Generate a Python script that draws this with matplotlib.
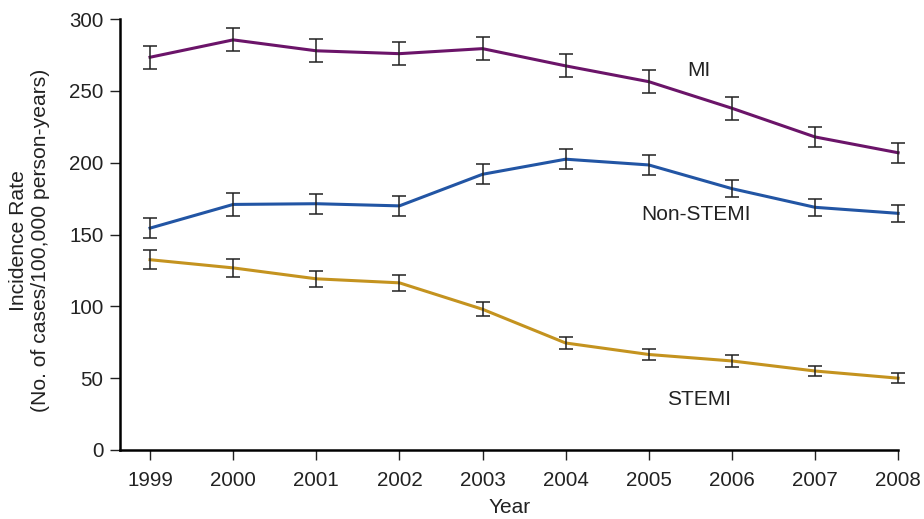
import matplotlib.pyplot as plt
import numpy as np

plt.rcParams['font.family'] = ['Liberation Sans', 'DejaVu Sans']

years = np.arange(1999, 2009)

# incidence rates per 100,000 person-years
mi = [273.5, 285.6, 278, 276, 279.5, 267.5, 256.5, 238, 218, 207]
mi_err = [8, 8, 8, 8, 8, 8, 8, 8, 7, 7]
nstemi = [154.5, 171, 171.5, 170, 192, 202.5, 198.5, 182, 169, 164.8]
nstemi_err = [7, 8, 7, 7, 7, 7, 7, 6, 6, 6]
stemi = [132.5, 126.8, 119.2, 116.4, 98, 74.5, 66.5, 62, 55, 50]
stemi_err = [6.5, 6, 5.5, 5.5, 5, 4, 4, 4, 3.5, 3.5]

series = [
    (mi, mi_err, '#6b1469', 'MI', 2005.6, 264),
    (nstemi, nstemi_err, '#2255a4', 'Non-STEMI', 2005.57, 164),
    (stemi, stemi_err, '#c4931f', 'STEMI', 2005.6, 35),
]

fig = plt.figure(figsize=(9.24, 5.19), dpi=100)
ax = fig.add_axes([0.13, 0.133, 0.842, 0.830])

for vals, err, color, name, tx, ty in series:
    ax.plot(years, vals, color=color, lw=2.2, zorder=2, clip_on=False)
    ax.errorbar(years, vals, yerr=err, fmt='none', ecolor='#222222',
                elinewidth=1.1, capsize=5, capthick=1.1, zorder=3, clip_on=False)
    ax.text(tx, ty, name, ha='center', va='center', fontsize=15, color='#222222')

ax.set_xlim(1998.64, 2008)
ax.set_ylim(0, 300)
ax.set_xticks(years)
ax.set_yticks(np.arange(0, 301, 50))

ax.spines['top'].set_visible(False)
ax.spines['right'].set_visible(False)
ax.spines['left'].set_linewidth(1.8)
ax.spines['bottom'].set_linewidth(1.8)
ax.tick_params(axis='both', length=7, width=1, labelsize=14.8, colors='#222222')
ax.tick_params(axis='x', pad=8)
ax.tick_params(axis='y', pad=5)

ax.set_xlabel('Year', fontsize=15, color='#222222', labelpad=6)
ax.set_ylabel('Incidence Rate\n(No. of cases/100,000 person-years)', fontsize=15.2,
              color='#222222', va='center')
ax.yaxis.set_label_coords(-0.117, 0.487)

fig.savefig('out.png', dpi=100)
